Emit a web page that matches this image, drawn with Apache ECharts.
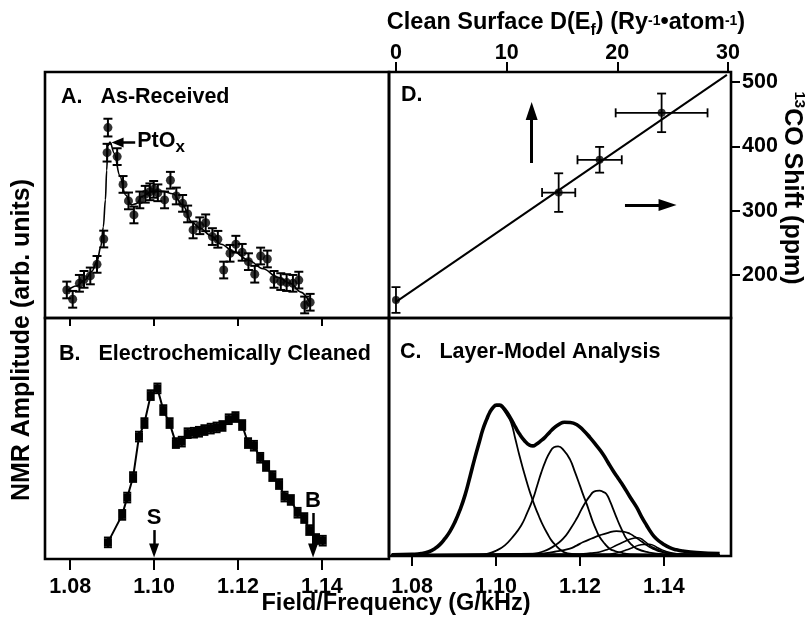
<!DOCTYPE html>
<html><head><meta charset="utf-8">
<script src="https://cdn.jsdelivr.net/npm/echarts@6/dist/echarts.min.js"></script>
<style>html,body{margin:0;padding:0;background:#fff}#c{width:808px;height:621px}</style>
</head><body><div id="c"></div>
<script>
// ---------- tick labels ----------
const fieldTicks = [1.08, 1.10, 1.12, 1.14];
const dosTicks = [0, 10, 20, 30];
const shiftTicks = [200, 300, 400, 500];

// ---------- Panel A: As-Received ----------
const fieldA = [1.0792, 1.0806, 1.0822, 1.0833, 1.0848, 1.0864, 1.0880, 1.0888, 1.0890, 1.0912, 1.0926, 1.0939, 1.0952, 1.0966, 1.0979, 1.0990, 1.0999, 1.1009, 1.1025, 1.1039, 1.1053, 1.1068, 1.1080, 1.1093, 1.1109, 1.1123, 1.1139, 1.1152, 1.1166, 1.1181, 1.1195, 1.1210, 1.1225, 1.1240, 1.1254, 1.1270, 1.1286, 1.1302, 1.1316, 1.1331, 1.1345, 1.1359, 1.1372];
const ampA = [11.4, 7.6, 14.1, 15.7, 17.1, 21.8, 32.1, 67.2, 77.4, 65.6, 54.3, 47.6, 41.9, 48.0, 50.3, 51.3, 52.3, 50.9, 48.0, 56.0, 49.6, 46.6, 42.3, 35.8, 37.5, 38.7, 33.1, 32.0, 19.5, 26.3, 30.0, 26.7, 22.9, 17.8, 25.2, 24.0, 15.7, 14.8, 14.4, 14.1, 15.4, 5.3, 6.4];
const errA = [3.4, 3.4, 3.4, 3.4, 3.4, 3.4, 3.4, 3.6, 3.6, 3.4, 3.4, 3.4, 3.4, 3.4, 3.4, 3.4, 3.4, 3.4, 3.4, 3.4, 3.4, 3.4, 3.4, 3.4, 3.4, 3.4, 3.4, 3.4, 3.4, 3.4, 3.4, 3.4, 3.4, 3.4, 3.4, 3.4, 3.4, 3.4, 3.4, 3.4, 3.4, 3.4, 3.4];
const fitFieldA = [1.0792, 1.0815, 1.0835, 1.0852, 1.0864, 1.0873, 1.0879, 1.0884, 1.0887, 1.0890, 1.0895, 1.0905, 1.0918, 1.0932, 1.0946, 1.0958, 1.0972, 1.0995, 1.1020, 1.1045, 1.1068, 1.1090, 1.1110, 1.1135, 1.1160, 1.1190, 1.1225, 1.1260, 1.1295, 1.1325, 1.1350, 1.1372];
const fitAmpA = [11.0, 13.0, 15.5, 19.0, 23.0, 29.0, 37.0, 48.0, 60.0, 70.0, 71.5, 67.0, 58.0, 50.0, 46.0, 46.5, 49.5, 51.5, 51.5, 50.5, 46.0, 39.0, 36.5, 33.5, 30.0, 27.0, 23.5, 20.0, 16.5, 14.0, 10.5, 6.0];

// ---------- Panel B: Electrochemically Cleaned ----------
const fieldB = [1.0890, 1.0924, 1.0936, 1.0950, 1.0964, 1.0977, 1.0992, 1.1008, 1.1022, 1.1037, 1.1052, 1.1066, 1.1080, 1.1095, 1.1107, 1.1120, 1.1135, 1.1149, 1.1163, 1.1178, 1.1194, 1.1210, 1.1224, 1.1238, 1.1253, 1.1267, 1.1282, 1.1298, 1.1311, 1.1326, 1.1342, 1.1358, 1.1370, 1.1386, 1.1402];
const ampB = [6.9, 18.3, 25.5, 34.0, 50.8, 56.4, 68.0, 70.8, 61.8, 56.4, 48.1, 48.7, 52.2, 52.4, 52.8, 53.5, 54.1, 54.6, 55.2, 58.0, 58.9, 55.6, 48.1, 47.0, 42.0, 38.6, 34.4, 31.1, 25.9, 24.5, 19.2, 17.0, 12.0, 8.3, 7.6];
const errB = [2, 2, 2, 2, 2, 2, 2, 2, 2, 2, 2, 2, 2, 2, 2, 2, 2, 2, 2, 2, 2, 2, 2, 2, 2, 2, 2, 2, 2, 2, 2, 2, 2, 2, 2];

// ---------- Panel C: Layer-Model Analysis ----------
const totalFieldC = [1.0751, 1.0800, 1.0822, 1.0840, 1.0854, 1.0866, 1.0878, 1.0890, 1.0902, 1.0914, 1.0926, 1.0938, 1.0949, 1.0960, 1.0969, 1.0978, 1.0985, 1.0993, 1.1001, 1.1009, 1.1017, 1.1026, 1.1036, 1.1046, 1.1056, 1.1068, 1.1080, 1.1088, 1.1096, 1.1106, 1.1116, 1.1128, 1.1139, 1.1151, 1.1163, 1.1177, 1.1192, 1.1208, 1.1224, 1.1240, 1.1255, 1.1267, 1.1279, 1.1291, 1.1303, 1.1319, 1.1335, 1.1347, 1.1359, 1.1370, 1.1382, 1.1398, 1.1414, 1.1430, 1.1445, 1.1478, 1.1533];
const totalAmpC = [0, 0.2, 0.5, 1.3, 2.6, 4.3, 6.8, 9.8, 13.8, 18.9, 25.1, 33.0, 40.5, 47.5, 53.1, 57.3, 60.1, 62.2, 63.2, 63.2, 62.2, 60.2, 57.3, 54.0, 51.0, 48.2, 46.3, 46.0, 46.7, 48.0, 49.5, 51.8, 53.7, 55.2, 56.0, 55.9, 55.0, 52.6, 49.5, 46.0, 42.5, 39.0, 35.5, 32.3, 29.2, 24.5, 20.1, 16.0, 12.4, 9.3, 6.8, 4.6, 3.0, 2.1, 1.6, 1.0, 0.5];
const layer1Field = [1.0751, 1.0800, 1.0822, 1.0840, 1.0854, 1.0866, 1.0878, 1.0890, 1.0902, 1.0914, 1.0926, 1.0938, 1.0949, 1.0960, 1.0969, 1.0978, 1.0985, 1.0993, 1.1001, 1.1009, 1.1017, 1.1026, 1.1036, 1.1046, 1.1056, 1.1066, 1.1076, 1.1084, 1.1092, 1.1102, 1.1112, 1.1122, 1.1132, 1.1144, 1.1155, 1.1171, 1.1200, 1.1533];
const layer1Amp = [0, 0.2, 0.5, 1.3, 2.6, 4.3, 6.8, 9.8, 13.8, 18.9, 25.1, 33.0, 40.5, 47.5, 53.1, 57.3, 60.1, 62.0, 63.0, 62.8, 61.5, 59.0, 55.8, 49.0, 41.8, 35.3, 29.2, 24.8, 20.8, 16.4, 12.4, 9.1, 6.1, 3.7, 1.9, 0.6, 0.1, 0];
const layer2Field = [1.0751, 1.0960, 1.0981, 1.1000, 1.1021, 1.1040, 1.1060, 1.1074, 1.1088, 1.1098, 1.1108, 1.1118, 1.1128, 1.1138, 1.1148, 1.1162, 1.1176, 1.1188, 1.1200, 1.1208, 1.1216, 1.1224, 1.1231, 1.1239, 1.1247, 1.1259, 1.1271, 1.1283, 1.1295, 1.1320, 1.1533];
const layer2Amp = [0, 0.1, 0.5, 1.7, 4.0, 7.6, 12.4, 17.6, 23.6, 29.2, 34.8, 39.6, 43.2, 45.4, 45.8, 44.0, 40.4, 35.0, 29.2, 25.2, 21.5, 17.4, 13.8, 10.4, 7.5, 4.7, 2.6, 1.6, 1.0, 0.3, 0];
const layer3Field = [1.0751, 1.1070, 1.1093, 1.1110, 1.1128, 1.1144, 1.1160, 1.1176, 1.1192, 1.1204, 1.1216, 1.1224, 1.1231, 1.1239, 1.1247, 1.1255, 1.1263, 1.1271, 1.1279, 1.1287, 1.1295, 1.1303, 1.1311, 1.1323, 1.1335, 1.1359, 1.1400, 1.1533];
const layer3Amp = [0, 0.2, 0.5, 1.3, 2.6, 4.4, 6.8, 10.6, 15.2, 19.3, 22.9, 24.9, 26.4, 27.0, 27.1, 26.6, 25.7, 22.9, 19.4, 15.8, 12.4, 9.4, 6.8, 4.3, 2.6, 1.2, 0.3, 0];
const layer4Field = [1.0751, 1.1100, 1.1140, 1.1176, 1.1192, 1.1208, 1.1228, 1.1247, 1.1267, 1.1287, 1.1303, 1.1319, 1.1331, 1.1343, 1.1355, 1.1366, 1.1378, 1.1390, 1.1420, 1.1533];
const layer4Amp = [0, 0.5, 1.3, 2.6, 3.9, 5.4, 6.9, 8.2, 9.3, 10.0, 9.8, 8.9, 7.6, 6.1, 4.6, 3.3, 2.3, 1.5, 0.5, 0];
const layer5Field = [1.0751, 1.1200, 1.1225, 1.1247, 1.1267, 1.1287, 1.1305, 1.1323, 1.1338, 1.1352, 1.1366, 1.1378, 1.1390, 1.1414, 1.1450, 1.1533];
const layer5Amp = [0, 0.3, 0.7, 1.2, 2.4, 4.0, 5.5, 6.8, 7.2, 6.0, 4.0, 2.8, 1.9, 0.5, 0.1, 0];
const layer6Field = [1.0751, 1.1270, 1.1290, 1.1310, 1.1325, 1.1340, 1.1353, 1.1365, 1.1375, 1.1385, 1.1397, 1.1410, 1.1440, 1.1533];
const layer6Amp = [0, 0.3, 0.9, 2.0, 3.0, 4.0, 4.4, 4.5, 4.0, 3.0, 2.0, 1.2, 0.3, 0];

// ---------- Panel D: 13CO shift vs D(Ef) ----------
const dosD = [0, 14.7, 18.4, 24.0];
const shiftD = [161, 328, 379, 452];
const dosErrD = [0, 1.5, 2.0, 4.15];
const shiftErrD = [20, 30, 20, 30];
const fitDos = [0, 29.9];
const fitShift = [158, 511];

// ---------- helpers ----------
const FONT = '"Liberation Sans", Arial, Helvetica, sans-serif';
const pairs = (xs, ys) => xs.map((x, i) => [x, ys[i]]);
const errData = (xs, ys, exs, eys) => xs.map((x, i) => [x, ys[i], exs ? exs[i] : 0, eys[i]]);

function errRender(capHalf, lw) {
  return function (params, api) {
    const x = api.value(0), y = api.value(1), ex = api.value(2), ey = api.value(3);
    const st = { stroke: '#000', lineWidth: lw, fill: null };
    const ch = [];
    if (ey > 0) {
      const a = api.coord([x, y + ey]), b = api.coord([x, y - ey]);
      ch.push({ type: 'line', shape: { x1: a[0], y1: a[1], x2: b[0], y2: b[1] }, style: st });
      ch.push({ type: 'line', shape: { x1: a[0] - capHalf, y1: a[1], x2: a[0] + capHalf, y2: a[1] }, style: st });
      ch.push({ type: 'line', shape: { x1: b[0] - capHalf, y1: b[1], x2: b[0] + capHalf, y2: b[1] }, style: st });
    }
    if (ex > 0) {
      const a = api.coord([x - ex, y]), b = api.coord([x + ex, y]);
      ch.push({ type: 'line', shape: { x1: a[0], y1: a[1], x2: b[0], y2: b[1] }, style: st });
      ch.push({ type: 'line', shape: { x1: a[0], y1: a[1] - capHalf, x2: a[0], y2: a[1] + capHalf }, style: st });
      ch.push({ type: 'line', shape: { x1: b[0], y1: b[1] - capHalf, x2: b[0], y2: b[1] + capHalf }, style: st });
    }
    return { type: 'group', children: ch };
  };
}

const tickLine = { color: '#000', width: 2 };
const lbl = { color: '#000', fontSize: 21.5, fontWeight: 'bold', fontFamily: FONT };
const gridBase = { show: true, borderColor: '#000', borderWidth: 2.6, backgroundColor: 'transparent', containLabel: false, outerBoundsMode: 'none' };
const fmtField = v => v.toFixed(2);
const noLine = { show: false, onZero: false };

function layerLine(f, a, w) {
  return { type: 'line', xAxisIndex: 3, yAxisIndex: 3, data: pairs(f, a), smooth: 0.5, symbol: 'none', lineStyle: { color: '#000', width: w }, silent: true };
}

const option = {
  animation: false,
  backgroundColor: '#fff',
  grid: [
    Object.assign({ left: 45, top: 72, width: 344, height: 246 }, gridBase),
    Object.assign({ left: 45, top: 318, width: 344, height: 241 }, gridBase),
    Object.assign({ left: 389, top: 72, width: 342, height: 246 }, gridBase),
    Object.assign({ left: 389, top: 318, width: 342, height: 238 }, gridBase)
  ],
  xAxis: [
    { gridIndex: 0, type: 'value', min: 1.074, max: 1.156, position: 'bottom', axisLine: noLine, splitLine: { show: false },
      axisTick: { show: true, inside: false, length: 8, lineStyle: tickLine, customValues: fieldTicks }, axisLabel: { show: false } },
    { gridIndex: 1, type: 'value', min: 1.074, max: 1.156, position: 'bottom', axisLine: noLine, splitLine: { show: false },
      axisTick: { show: true, inside: false, length: 11, lineStyle: tickLine, customValues: fieldTicks },
      axisLabel: Object.assign({ show: true, customValues: fieldTicks, formatter: fmtField, margin: 17 }, lbl) },
    { gridIndex: 2, type: 'value', min: -0.63, max: 30.27, position: 'top', axisLine: noLine, splitLine: { show: false },
      axisTick: { show: true, inside: false, length: 10, lineStyle: tickLine, customValues: dosTicks },
      axisLabel: Object.assign({ show: true, customValues: dosTicks, margin: 8 }, lbl) },
    { gridIndex: 3, type: 'value', min: 1.0745, max: 1.156, position: 'bottom', axisLine: noLine, splitLine: { show: false },
      axisTick: { show: true, inside: false, length: 10, lineStyle: tickLine, customValues: fieldTicks },
      axisLabel: Object.assign({ show: true, customValues: fieldTicks, formatter: fmtField, margin: 20 }, lbl) }
  ],
  yAxis: [
    { gridIndex: 0, type: 'value', min: 0, max: 100, show: false, axisLine: noLine },
    { gridIndex: 1, type: 'value', min: 0, max: 100, show: false, axisLine: noLine },
    { gridIndex: 2, type: 'value', min: 133, max: 515.5, position: 'right', axisLine: noLine, splitLine: { show: false },
      axisTick: { show: true, inside: false, length: 9, lineStyle: tickLine, customValues: shiftTicks },
      axisLabel: Object.assign({ show: true, customValues: shiftTicks, margin: 11 }, lbl) },
    { gridIndex: 3, type: 'value', min: -0.5, max: 100, show: false, axisLine: noLine }
  ],
  series: [
    // Panel A
    { type: 'custom', xAxisIndex: 0, yAxisIndex: 0, renderItem: errRender(4.5, 2), data: errData(fieldA, ampA, null, errA), encode: { x: 0, y: 1 }, silent: true },
    { type: 'scatter', xAxisIndex: 0, yAxisIndex: 0, data: pairs(fieldA, ampA), symbol: 'circle', symbolSize: 9, itemStyle: { color: '#000' }, silent: true },
    { type: 'line', xAxisIndex: 0, yAxisIndex: 0, data: pairs(fitFieldA, fitAmpA), smooth: 0.35, smoothMonotone: 'x', symbol: 'none', lineStyle: { color: '#000', width: 1.6 }, silent: true,
      markLine: {
        silent: true, animation: false,
        lineStyle: { color: '#000', width: 2.5, type: 'solid' }, itemStyle: { color: '#000' },
        emphasis: { disabled: true },
        label: {
          show: true, position: 'start', distance: 2, color: '#000', fontFamily: FONT, fontWeight: 'bold',
          formatter: '{m|PtO}{s|x}',
          rich: { m: { fontSize: 21.5, fontWeight: 'bold', fontFamily: FONT, lineHeight: 22, verticalAlign: 'top' },
                  s: { fontSize: 17, fontWeight: 'bold', fontFamily: FONT, lineHeight: 25.5, verticalAlign: 'bottom' } }
        },
        data: [[{ coord: [1.0955, 71.3], symbol: 'none' }, { coord: [1.0913, 71.3], symbol: 'triangle', symbolSize: [10, 12] }]]
      } },
    // Panel B
    { type: 'custom', xAxisIndex: 1, yAxisIndex: 1, renderItem: errRender(4, 2), data: errData(fieldB, ampB, null, errB), encode: { x: 0, y: 1 }, silent: true },
    { type: 'line', xAxisIndex: 1, yAxisIndex: 1, data: pairs(fieldB, ampB), symbol: 'rect', symbolSize: 8, showSymbol: true, showAllSymbol: true,
      itemStyle: { color: '#000' }, lineStyle: { color: '#000', width: 2 }, silent: true,
      markLine: {
        silent: true, animation: false,
        lineStyle: { color: '#000', width: 2.5, type: 'solid' }, itemStyle: { color: '#000' },
        emphasis: { disabled: true },
        label: { show: true, position: 'start', distance: 1, color: '#000', fontSize: 22, fontWeight: 'bold', fontFamily: FONT },
        data: [
          [{ coord: [1.10, 12.0], symbol: 'none', label: { formatter: 'S' } }, { coord: [1.10, 3.5], symbol: 'triangle', symbolSize: [10, 14] }],
          [{ coord: [1.1379, 19.1], symbol: 'none', label: { formatter: 'B' } }, { coord: [1.1379, 3.5], symbol: 'triangle', symbolSize: [10, 14] }]
        ]
      } },
    // Panel C
    layerLine(layer6Field, layer6Amp, 1.5),
    layerLine(layer5Field, layer5Amp, 1.6),
    layerLine(layer4Field, layer4Amp, 1.8),
    layerLine(layer3Field, layer3Amp, 1.8),
    layerLine(layer2Field, layer2Amp, 1.8),
    layerLine(layer1Field, layer1Amp, 1.8),
    layerLine(totalFieldC, totalAmpC, 3.6),
    // Panel D
    { type: 'custom', xAxisIndex: 2, yAxisIndex: 2, renderItem: errRender(4.5, 1.8), data: errData(dosD, shiftD, dosErrD, shiftErrD), encode: { x: 0, y: 1 }, silent: true },
    { type: 'scatter', xAxisIndex: 2, yAxisIndex: 2, data: pairs(dosD, shiftD), symbol: 'circle', symbolSize: 8, itemStyle: { color: '#000' }, silent: true },
    { type: 'line', xAxisIndex: 2, yAxisIndex: 2, data: pairs(fitDos, fitShift), symbol: 'none', lineStyle: { color: '#000', width: 2 }, silent: true,
      markLine: {
        silent: true, animation: false,
        lineStyle: { color: '#000', width: 3, type: 'solid' }, itemStyle: { color: '#000' },
        emphasis: { disabled: true }, label: { show: false },
        data: [
          [{ coord: [12.26, 374], symbol: 'none' }, { coord: [12.26, 455], symbol: 'triangle', symbolSize: [12, 18] }],
          [{ coord: [20.69, 308.8], symbol: 'none' }, { coord: [24.54, 308.8], symbol: 'triangle', symbolSize: [12, 18] }]
        ]
      } }
  ],
  graphic: [
    { type: 'text', x: 61, y: 97, silent: true, style: { text: 'A.   As-Received', fill: '#000', font: 'bold 21.5px ' + FONT, align: 'left', verticalAlign: 'middle' } },
    { type: 'text', x: 59, y: 354, silent: true, style: { text: 'B.   Electrochemically Cleaned', fill: '#000', font: 'bold 21.5px ' + FONT, align: 'left', verticalAlign: 'middle' } },
    { type: 'text', x: 400, y: 352, silent: true, style: { text: 'C.   Layer-Model Analysis', fill: '#000', font: 'bold 21.5px ' + FONT, align: 'left', verticalAlign: 'middle' } },
    { type: 'text', x: 401, y: 95, silent: true, style: { text: 'D.', fill: '#000', font: 'bold 21.5px ' + FONT, align: 'left', verticalAlign: 'middle' } },
    { type: 'text', x: 396, y: 604, silent: true, style: { text: 'Field/Frequency (G/kHz)', fill: '#000', font: 'bold 23.5px ' + FONT, align: 'center', verticalAlign: 'middle' } },
    { type: 'text', x: 22.5, y: 340, rotation: Math.PI / 2, silent: true, style: { text: 'NMR Amplitude (arb. units)', fill: '#000', font: 'bold 25px ' + FONT, align: 'center', verticalAlign: 'middle' } },
    { type: 'text', x: 793, y: 188, rotation: -Math.PI / 2, silent: true, style: {
        text: '{p|13}{m|CO Shift (ppm)}', fill: '#000', align: 'center', verticalAlign: 'middle',
        rich: { m: { fontSize: 25, fontWeight: 'bold', fontFamily: FONT, lineHeight: 27, verticalAlign: 'bottom', fill: '#000' },
                p: { fontSize: 15, fontWeight: 'bold', fontFamily: FONT, lineHeight: 16, verticalAlign: 'top', fill: '#000' } } } },
    { type: 'text', x: 566, y: 11, silent: true, style: {
        text: '{m|Clean Surface D(E}{s|f}{m|) (Ry}{p|-1}{m|•atom}{p|-1}{m|)}', fill: '#000', align: 'center', verticalAlign: 'top',
        rich: { m: { fontSize: 23.5, fontWeight: 'bold', fontFamily: FONT, lineHeight: 26, verticalAlign: 'top', fill: '#000' },
                s: { fontSize: 16, fontWeight: 'bold', fontFamily: FONT, lineHeight: 27.5, verticalAlign: 'bottom', fill: '#000' },
                p: { fontSize: 14, fontWeight: 'bold', fontFamily: FONT, lineHeight: 16, verticalAlign: 'top', padding: [3, 0, 0, 0], fill: '#000' } } } }
  ]
};

const chart = echarts.init(document.getElementById('c'), null, { renderer: 'canvas' });
chart.setOption(option);
</script>
</body></html>
